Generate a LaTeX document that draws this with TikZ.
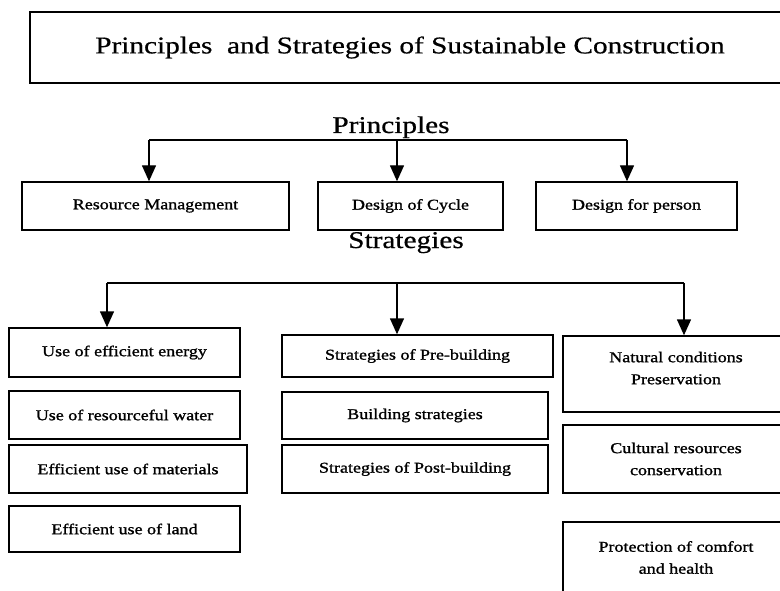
\documentclass[tikz,border=0pt]{standalone}
\usepackage{fontspec}
\setmainfont{Liberation Serif}[FakeStretch=1.22]
\newfontfamily\boxfont{Liberation Serif}[FakeStretch=1.2, FakeBold=1.2]
\newfontfamily\headfont{Liberation Serif}[FakeStretch=1.22, FakeBold=0.6]
\usetikzlibrary{shapes,arrows.meta,positioning,calc}
\tikzset{
block/.style = {draw, fill=white, rectangle, align=center, inner sep=0pt, font=\boxfont\fontsize{15}{22}\selectfont},
head/.style  = {inner sep=0pt, font=\headfont\fontsize{24}{28}\selectfont},
bus/.style   = {coordinate}
}

\begin{document}
\begin{tikzpicture}[x=1pt, y=-1pt, line width=1.4pt, >={Triangle[width=14pt,length=16pt]}]
					\useasboundingbox (0,0) rectangle (780,591);
					\clip (0,0) rectangle (780,591);
					% title
					\node[block, minimum width=760pt, minimum height=71pt, font=\headfont\fontsize{24}{28}\selectfont] (title) at (410,47.5) {Principles\ \ and Strategies of Sustainable Construction};
					% principles
					\node[head, anchor=base] (prin) at (391,133) {Principles};
					\node[block, minimum width=267pt, minimum height=48pt] (rm) at (155.5,206) {Resource Management};
					\node[block, minimum width=185pt, minimum height=48pt] (dc) at (410.5,206) {Design of Cycle};
					\node[block, minimum width=201pt, minimum height=48pt] (dp) at (636.5,206) {Design for person};
					\node[bus] (p1) at (149,140) {};
					\node[bus] (p2) at (397,140) {};
					\node[bus] (p3) at (627,140) {};
					\draw (p1) -- (p3);
					\draw[->] (p1) -- (p1 |- rm.north);
					\draw[->] (p2) -- (p2 |- dc.north);
					\draw[->] (p3) -- (p3 |- dp.north);
					% strategies
					\node[head, anchor=base] (strat) at (406,248) {Strategies};
					\node[block, minimum width=231pt, minimum height=49pt] (ee) at (124.5,352.5) {Use of efficient energy};
					\node[block, minimum width=231pt, minimum height=48pt] (rw) at (124.5,415) {Use of resourceful water};
					\node[block, minimum width=238pt, minimum height=48pt] (em) at (128,469) {Efficient use of materials};
					\node[block, minimum width=231pt, minimum height=46pt] (el) at (124.5,529) {Efficient use of land};
					\node[block, minimum width=271pt, minimum height=42pt] (pb) at (417.5,356) {Strategies of Pre-building};
					\node[block, minimum width=266pt, minimum height=47pt] (bs) at (415,415.5) {Building strategies};
					\node[block, minimum width=266pt, minimum height=48pt] (ps) at (415,469) {Strategies of Post-building};
					\node[block, minimum width=226pt, minimum height=76pt] (nc) at (676,374) {Natural conditions\\Preservation\\[-10pt]};
					\node[block, minimum width=226pt, minimum height=68pt] (cr) at (676,459) {Cultural resources\\conservation};
					\node[block, minimum width=226pt, minimum height=71pt] (pc) at (676,557.5) {Protection of comfort\\and health};
					\node[bus] (s1) at (107,283) {};
					\node[bus] (s2) at (397,283) {};
					\node[bus] (s3) at (684,283) {};
					\draw (s1) -- (s3);
					\draw[->] (s1) -- (s1 |- ee.north);
					\draw[->] (s2) -- (s2 |- pb.north);
					\draw[->] (s3) -- (s3 |- nc.north);
				\end{tikzpicture}
\end{document}
